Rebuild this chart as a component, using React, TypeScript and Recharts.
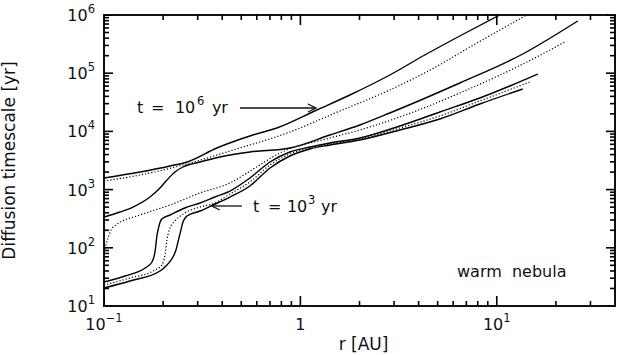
import React from 'react';
import { ComposedChart, Line, Scatter, XAxis, YAxis, ReferenceLine, ReferenceDot } from 'recharts';

const FONT = '"DejaVu Sans", sans-serif';
const INK = '#111';

// [r (AU), diffusion timescale (yr)]
const outerSolid: [number, number][] = [
  [0.1, 1582], [0.1525, 2006], [0.2168, 2544], [0.2645, 2980], [0.3758, 5185], [0.5733, 8670],
  [0.7591, 11440], [1.213, 23320], [1.786, 42210], [2.854, 93130], [4.3, 205500], [6.481, 435600], [10.36, 1000000],
];
const outerDotted: [number, number][] = [
  [0.1, 1405], [0.1525, 1781], [0.2523, 2647], [0.4377, 4605], [0.8843, 9765], [1.589, 22410],
  [2.854, 51440], [5.312, 149700], [6.481, 222400], [14.21, 1000000],
];
const midSolid: [number, number][] = [
  [0.1, 338], [0.1206, 412], [0.1405, 502], [0.1714, 746], [0.1928, 1065], [0.2092, 1462], [0.2298, 2006],
  [0.2523, 2445], [0.308, 2980], [0.3894, 3632], [0.5534, 4426], [0.8843, 5185], [1.413, 8670],
  [2.008, 12880], [2.854, 20710], [6.481, 67840], [13.56, 213800], [25.84, 788700],
];
const midDotted: [number, number][] = [
  [0.1, 84.7], [0.1012, 99.2], [0.1048, 147], [0.1086, 202], [0.1151, 246.5], [0.1525, 366], [0.2168, 544],
  [0.308, 874], [0.4377, 1299], [0.5867, 2350], [0.7863, 4255], [1.413, 7700], [2.008, 10570],
  [3.209, 17680], [6.481, 45680], [15.98, 189800], [22.19, 343600],
];
const innerSolidA: [number, number][] = [
  [0.1, 25.8], [0.128, 32.8], [0.162, 45.0], [0.1755, 57.0], [0.1818, 84.7], [0.186, 160], [0.1905, 237],
  [0.197, 312], [0.217, 366], [0.258, 483], [0.308, 589], [0.367, 746], [0.438, 946], [0.553, 1582],
  [0.7, 2980], [0.884, 4426], [1.118, 5395], [1.413, 6321], [2.008, 7700], [3.209, 12380], [5.128, 21540],
  [8.195, 37490], [11.65, 60280], [16.17, 96900],
];
const innerDotted: [number, number][] = [
  [0.1, 22.9], [0.1356, 30.3], [0.1818, 41.6], [0.197, 50.6], [0.2044, 75.2], [0.2092, 136], [0.2168, 219],
  [0.2298, 289], [0.258, 396], [0.308, 502], [0.367, 589], [0.438, 840], [0.553, 1351], [0.7, 2647],
  [0.884, 4089], [1.118, 5185], [1.413, 6075], [2.008, 7404], [3.209, 11440], [5.128, 18390],
  [8.195, 33300], [14.72, 70620],
];
const innerSolidB: [number, number][] = [
  [0.1, 20.4], [0.1356, 26.9], [0.1928, 39.9], [0.2092, 50.6], [0.2245, 69.5], [0.2325, 91.6], [0.238, 126],
  [0.2465, 202], [0.2523, 278], [0.2645, 352], [0.308, 429], [0.367, 566], [0.438, 746], [0.553, 1153],
  [0.7, 2350], [0.884, 3779], [1.118, 4984], [1.413, 5839], [2.008, 7116], [3.209, 10570], [5.128, 16340],
  [8.195, 29570], [13.56, 53530],
];

const X_MIN = 0.1;
const X_MAX = 40;
const Y_MIN = 10;
const Y_MAX = 1000000;

const xMajor = [0.1, 1, 10];
const minorSteps = [2, 3, 4, 5, 6, 7, 8, 9];
const xMinor = xMajor.flatMap((d) => minorSteps.map((m) => d * m)).filter((v) => v < X_MAX);
const yMajor = [10, 100, 1000, 10000, 100000, 1000000];
const yMinor = yMajor.slice(0, 5).flatMap((d) => minorSteps.map((m) => d * m));
const xLabels: Record<string, [string, string]> = { '0.1': ['10', '\u22121'], '1': ['1', ''], '10': ['10', '1'] };
const yLabels: Record<string, [string, string]> = {
  '10': ['10', '1'], '100': ['10', '2'], '1000': ['10', '3'], '10000': ['10', '4'], '100000': ['10', '5'], '1000000': ['10', '6'],
};

// tick mark anchor points on the four sides of the plot
const bottomTicks = [...xMajor.map((v) => ({ r: v, t: Y_MIN, len: 10 })), ...xMinor.map((v) => ({ r: v, t: Y_MIN, len: 5 }))];
const topTicks = [...xMajor.map((v) => ({ r: v, t: Y_MAX, len: 10 })), ...xMinor.map((v) => ({ r: v, t: Y_MAX, len: 5 }))];
const leftTicks = [...yMajor.map((v) => ({ r: X_MIN, t: v, len: 9 })), ...yMinor.map((v) => ({ r: X_MIN, t: v, len: 5 }))];
const rightTicks = [...yMajor.map((v) => ({ r: X_MAX, t: v, len: 9 })), ...yMinor.map((v) => ({ r: X_MAX, t: v, len: 5 }))];

const keyOf = (v: number) => String(Math.pow(10, Math.round(Math.log10(v))));
const rows = (s: [number, number][]) => s.map(([r, t]) => ({ r, t }));

const Pow = ({ x, y, base, exp, anchor }: any) => (
  <text x={x} y={y} textAnchor={anchor} fontFamily={FONT} fontSize={16} fill={INK}>
    <tspan>{base}</tspan>
    {exp ? <tspan dy={-8} fontSize={11.5}>{exp}</tspan> : null}
  </text>
);

const BottomLabel = ({ x, y, payload }: any) => {
  const lab = xLabels[keyOf(payload.value)];
  return lab ? <Pow x={x} y={y + 24} base={lab[0]} exp={lab[1]} anchor="middle" /> : <g />;
};
const LeftLabel = ({ x, y, payload }: any) => {
  const lab = yLabels[keyOf(payload.value)];
  return lab ? <Pow x={x - 9} y={y + 6} base={lab[0]} exp={lab[1]} anchor="end" /> : <g />;
};

const tickLen = (p: any) => Number(p.len ?? p.payload?.len ?? 5);
const BottomMark = (p: any) => (
  <path d={`M${p.cx},${p.cy}V${p.cy - tickLen(p)}`} stroke="#000" strokeWidth={1.6} fill="none" />
);
const TopMark = (p: any) => (
  <path d={`M${p.cx},${p.cy}V${p.cy + tickLen(p)}`} stroke="#000" strokeWidth={1.6} fill="none" />
);
const LeftMark = (p: any) => (
  <path d={`M${p.cx},${p.cy}H${p.cx + tickLen(p)}`} stroke="#000" strokeWidth={1.6} fill="none" />
);
const RightMark = (p: any) => (
  <path d={`M${p.cx},${p.cy}H${p.cx - tickLen(p)}`} stroke="#000" strokeWidth={1.6} fill="none" />
);

// plot frame, drawn inside one reference segment spanning the whole plot
const Frame = (p: any) => {
  const left = Number(Math.min(p.x1, p.x2));
  const right = Number(Math.max(p.x1, p.x2));
  const top = Number(Math.min(p.y1, p.y2));
  const bot = Number(Math.max(p.y1, p.y2));
  return <rect x={left} y={top} width={right - left} height={bot - top} stroke={INK} strokeWidth={2} fill="none" />;
};

const txt = (x: number, y: number, s: string, size = 16) => (
  <text x={x} y={y} fontFamily={FONT} fontSize={size} fill={INK} style={{ whiteSpace: 'pre' }}>{s}</text>
);

const Arrow6 = (p: any) => {
  const { x1, y1, x2, y2 } = p;
  return (
    <g>
      <line x1={x1} y1={y1} x2={x2} y2={y2} stroke={INK} strokeWidth={1.3} />
      <polyline points={`${x2 - 8},${y2 - 4} ${x2},${y2} ${x2 - 8},${y2 + 4}`} fill="none" stroke={INK} strokeWidth={1.3} />
      {txt(x1 - 103, y1 + 5, 't')}
      {txt(x1 - 89, y1 + 5, '=')}
      {txt(x1 - 65, y1 + 5, '10')}
      {txt(x1 - 43, y1 - 3, '6', 11.5)}
      {txt(x1 - 28, y1 + 5, 'yr')}
    </g>
  );
};
const Arrow3 = (p: any) => {
  const { x1, y1, x2, y2 } = p;
  return (
    <g>
      <line x1={x1} y1={y1} x2={x2} y2={y2} stroke={INK} strokeWidth={1.3} />
      <polyline points={`${x2 + 8},${y2 - 4} ${x2},${y2} ${x2 + 8},${y2 + 4}`} fill="none" stroke={INK} strokeWidth={1.3} />
      {txt(x1 + 11, y1 + 6, 't')}
      {txt(x1 + 26, y1 + 6, '=')}
      {txt(x1 + 45, y1 + 6, '10')}
      {txt(x1 + 66, y1 - 2, '3', 11.5)}
      {txt(x1 + 79, y1 + 6, 'yr')}
    </g>
  );
};
const NebulaLabel = (p: any) => (
  <text x={p.cx} y={p.cy} textAnchor="middle" fontFamily={FONT} fontSize={16} fill={INK} style={{ whiteSpace: 'pre' }}>
    {'warm  nebula'}
  </text>
);

const XTitle = (p: any) => {
  const vb = p.viewBox;
  return (
    <text x={vb.x + vb.width / 2 + 4} y={vb.y + 44} textAnchor="middle" fontFamily={FONT} fontSize={17} fill={INK}>
      r [AU]
    </text>
  );
};
const YTitle = (p: any) => {
  const vb = p.viewBox;
  const cx = vb.x + 15;
  const cy = vb.y + vb.height / 2;
  return (
    <text x={cx} y={cy} transform={`rotate(-90 ${cx} ${cy})`} textAnchor="middle" fontFamily={FONT} fontSize={17} fill={INK}>
      Diffusion timescale [yr]
    </text>
  );
};

const series = [
  { name: 'outerSolid', data: outerSolid, dotted: false },
  { name: 'outerDotted', data: outerDotted, dotted: true },
  { name: 'midSolid', data: midSolid, dotted: false },
  { name: 'midDotted', data: midDotted, dotted: true },
  { name: 'innerSolidA', data: innerSolidA, dotted: false },
  { name: 'innerDotted', data: innerDotted, dotted: true },
  { name: 'innerSolidB', data: innerSolidB, dotted: false },
];

export default function App() {
  return (
    <div style={{ position: 'absolute', left: 0, top: 0, width: 617, height: 355, background: '#fff' }}>
      <ComposedChart width={617} height={355} margin={{ top: 15, right: 2, bottom: 0, left: 0 }}>
        <XAxis
          dataKey="r"
          type="number"
          scale="log"
          domain={[X_MIN, X_MAX]}
          allowDataOverflow
          ticks={xMajor}
          interval={0}
          height={49}
          tickSize={0}
          tickMargin={0}
          tickLine={false}
          tick={<BottomLabel />}
          axisLine={false}
          label={{ content: <XTitle /> }}
        />
        <YAxis
          dataKey="t"
          type="number"
          scale="log"
          domain={[Y_MIN, Y_MAX]}
          allowDataOverflow
          ticks={yMajor}
          interval={0}
          width={104}
          tickSize={0}
          tickMargin={0}
          tickLine={false}
          tick={<LeftLabel />}
          axisLine={false}
          label={{ content: <YTitle /> }}
        />
        {series.map((s) => (
          <Line
            key={s.name}
            data={rows(s.data)}
            dataKey="t"
            type="monotone"
            stroke="#000"
            strokeWidth={s.dotted ? 1.2 : 1.4}
            strokeDasharray={s.dotted ? '1.2 2' : undefined}
            dot={false}
            activeDot={false}
            isAnimationActive={false}
          />
        ))}
        <Scatter data={bottomTicks} dataKey="t" shape={<BottomMark />} isAnimationActive={false} />
        <Scatter data={topTicks} dataKey="t" shape={<TopMark />} isAnimationActive={false} />
        <Scatter data={leftTicks} dataKey="t" shape={<LeftMark />} isAnimationActive={false} />
        <Scatter data={rightTicks} dataKey="t" shape={<RightMark />} isAnimationActive={false} />
        <ReferenceLine
          segment={[{ x: X_MIN, y: Y_MIN }, { x: X_MAX, y: Y_MAX }]}
          shape={<Frame />}
          ifOverflow="visible"
        />
        <ReferenceLine
          segment={[{ x: 0.492, y: 25230 }, { x: 1.2, y: 25230 }]}
          shape={<Arrow6 />}
          ifOverflow="visible"
        />
        <ReferenceLine
          segment={[{ x: 0.504, y: 523 }, { x: 0.354, y: 523 }]}
          shape={<Arrow3 />}
          ifOverflow="visible"
        />
        <ReferenceDot x={11.92} y={31.5} shape={<NebulaLabel />} ifOverflow="visible" />
      </ComposedChart>
    </div>
  );
}
